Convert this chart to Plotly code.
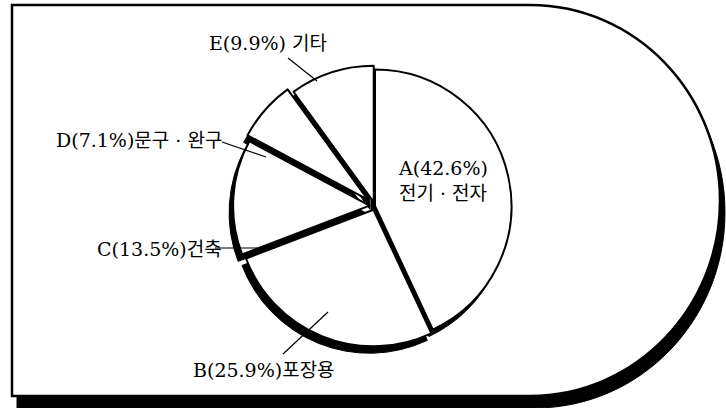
import plotly.graph_objects as go

# 제품별 구성비 (%)
codes = ["A", "B", "C", "D", "E"]
shares = [42.6, 25.9, 13.5, 7.1, 9.9]
names = ["전기 · 전자", "포장용", "건축", "문구 · 완구", "기타"]
pulls = [0.0, 0.03, 0.04, 0.07, 0.03]

W, H = 726, 408
FONT = "DejaVu Serif, Noto Sans CJK KR, serif"

# pie box in pixels (centre and half size)
cx, cy, half = 375, 206, 146
sdx, sdy = -4, 7  # shadow offset, px


def dom(dx=0, dy=0):
    x0 = (cx - half + dx) / W
    x1 = (cx + half + dx) / W
    y0 = (H - (cy + half + dy)) / H
    y1 = (H - (cy - half + dy)) / H
    return dict(x=[x0, x1], y=[y0, y1])


fig = go.Figure()

# shadow pie
fig.add_trace(go.Pie(
    labels=codes, values=shares, pull=pulls, sort=False,
    direction="clockwise", rotation=0, domain=dom(sdx, sdy),
    marker=dict(colors=["black"] * 5, line=dict(color="black", width=1)),
    textinfo="none", hoverinfo="skip", showlegend=False,
))
# white pie
fig.add_trace(go.Pie(
    labels=codes, values=shares, pull=pulls, sort=False,
    direction="clockwise", rotation=0, domain=dom(),
    marker=dict(colors=["white"] * 5, line=dict(color="black", width=2)),
    textinfo="none", hoverinfo="skip", showlegend=False,
))


def frame_path(dx, dy):
    # rectangle whose right side is a half ellipse (bezier quarters)
    ex, ey, rx, ry, k = 530 + dx, 200.5 + dy, 190, 195.5, 0.5523
    t, b, l = ey - ry, ey + ry, 12 + dx
    return (f"M {l},{t} L {ex},{t} "
            f"C {ex + k * rx},{t} {ex + rx},{ey - k * ry} {ex + rx},{ey} "
            f"C {ex + rx},{ey + k * ry} {ex + k * rx},{b} {ex},{b} "
            f"L {l},{b} Z")


shapes = [
    dict(type="path", path=frame_path(5, 12), xref="x", yref="y", layer="below",
         fillcolor="black", line=dict(color="black", width=1)),
    dict(type="path", path=frame_path(0, 0), xref="x", yref="y", layer="below",
         fillcolor="white", line=dict(color="black", width=2.5)),
]

# leader lines
for x0, y0, x1, y1 in [(288, 58, 317, 81), (222, 142, 266, 157),
                       (215, 248, 275, 248), (283, 354, 328, 312)]:
    shapes.append(dict(type="line", x0=x0, y0=y0, x1=x1, y1=y1,
                       xref="x", yref="y", line=dict(color="black", width=1.2)))

lab = [f"{c}({v}%)" for c, v in zip(codes, shares)]
annos = [
    dict(x=396, y=180, text=f"{lab[0]}<br>{names[0]}", xanchor="left", align="left"),
    dict(x=264, y=370, text=f"{lab[1]}{names[1]}", xanchor="center"),
    dict(x=224, y=249, text=f"{lab[2]}{names[2]}", xanchor="right"),
    dict(x=224, y=140, text=f"{lab[3]}{names[3]}", xanchor="right"),
    dict(x=268, y=43, text=f"{lab[4]} {names[4]}", xanchor="center"),
]
for a in annos:
    a.update(xref="x", yref="y", yanchor="middle", showarrow=False,
             font=dict(family=FONT, size=19, color="black"))

fig.update_layout(
    width=W, height=H, autosize=False,
    margin=dict(l=0, r=0, t=0, b=0),
    paper_bgcolor="white", plot_bgcolor="white",
    xaxis=dict(range=[0, W], visible=False, fixedrange=True),
    yaxis=dict(range=[H, 0], visible=False, fixedrange=True),
    shapes=shapes, annotations=annos,
)

fig.write_html("out.html", config={"displayModeBar": False},
               post_script="document.body.style.margin='0';")
